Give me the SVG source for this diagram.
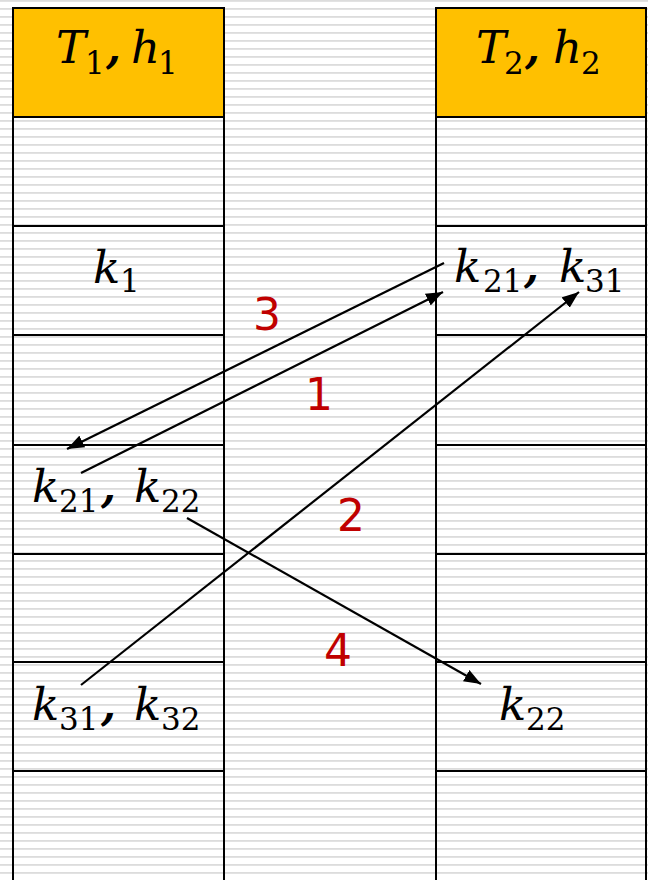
<svg xmlns="http://www.w3.org/2000/svg" width="648" height="880" viewBox="0 0 648 880">
<defs>
<pattern id="stripes" x="0" y="0" width="8" height="8" patternUnits="userSpaceOnUse">
<rect x="0" y="0" width="8" height="8" fill="#ffffff"/>
<rect x="0" y="0" width="8" height="1.8" fill="#dcdcdc"/>
</pattern>
<marker id="arr" markerUnits="userSpaceOnUse" markerWidth="18" markerHeight="14" refX="17" refY="7" orient="auto">
<path d="M0,0.5 L17,7 L0,13.5 z" fill="#000"/>
</marker>
<style>
.grid{stroke:#000;stroke-width:2;fill:none}
.hdr{fill:#FFC000;stroke:#000;stroke-width:2}
.m{font-family:"DejaVu Serif","Liberation Serif",serif;font-style:italic;font-size:45px;fill:#000}
.s{font-family:"DejaVu Serif","Liberation Serif",serif;font-size:31px;fill:#000}
.c{font-family:"DejaVu Serif","Liberation Serif",serif;font-style:italic;font-weight:bold;font-size:43px;fill:#000}
.num{font-family:"DejaVu Sans","Verdana",sans-serif;font-size:44px;fill:#C00000;text-anchor:middle}
.conn{stroke:#000;stroke-width:2.2;fill:none;marker-end:url(#arr)}
</style>
</defs>
<rect x="0" y="0" width="648" height="880" fill="url(#stripes)"/>

<g id="table1">
<rect class="hdr" x="13" y="8" width="211" height="109"/>
<line class="grid" x1="13" y1="117" x2="13" y2="880"/>
<line class="grid" x1="224" y1="117" x2="224" y2="880"/>
<line class="grid" x1="13" y1="226" x2="224" y2="226"/>
<line class="grid" x1="13" y1="335" x2="224" y2="335"/>
<line class="grid" x1="13" y1="445" x2="224" y2="445"/>
<line class="grid" x1="13" y1="554" x2="224" y2="554"/>
<line class="grid" x1="13" y1="662" x2="224" y2="662"/>
<line class="grid" x1="13" y1="771" x2="224" y2="771"/>
<text><tspan class="m" x="56" y="63">T</tspan><tspan class="s" x="85" y="74">1</tspan><tspan class="c" x="106" y="63">,</tspan><tspan class="m" x="131" y="63">h</tspan><tspan class="s" x="158" y="74">1</tspan></text>
</g>

<g id="table2">
<rect class="hdr" x="436" y="8" width="210" height="109"/>
<line class="grid" x1="436" y1="117" x2="436" y2="880"/>
<line class="grid" x1="646" y1="117" x2="646" y2="880"/>
<line class="grid" x1="436" y1="226" x2="646" y2="226"/>
<line class="grid" x1="436" y1="335" x2="646" y2="335"/>
<line class="grid" x1="436" y1="445" x2="646" y2="445"/>
<line class="grid" x1="436" y1="554" x2="646" y2="554"/>
<line class="grid" x1="436" y1="662" x2="646" y2="662"/>
<line class="grid" x1="436" y1="771" x2="646" y2="771"/>
<text><tspan class="m" x="476" y="63">T</tspan><tspan class="s" x="504" y="74">2</tspan><tspan class="c" x="525" y="63">,</tspan><tspan class="m" x="553" y="63">h</tspan><tspan class="s" x="581" y="74">2</tspan></text>
</g>

<g id="cell-k1">
<text><tspan class="m" x="93" y="283">k</tspan><tspan class="s" x="120" y="292">1</tspan></text>
</g>
<g id="cell-k21-k31">
<text><tspan class="m" x="454" y="282">k</tspan><tspan class="s" x="483" y="292">21</tspan><tspan class="c" x="524" y="282">,</tspan><tspan class="m" x="559" y="282">k</tspan><tspan class="s" x="585" y="292">31</tspan></text>
</g>
<g id="cell-k21-k22">
<text><tspan class="m" x="32" y="502">k</tspan><tspan class="s" x="59" y="512">21</tspan><tspan class="c" x="101" y="502">,</tspan><tspan class="m" x="134" y="502">k</tspan><tspan class="s" x="161" y="512">22</tspan></text>
</g>
<g id="cell-k31-k32">
<text><tspan class="m" x="32" y="720">k</tspan><tspan class="s" x="59" y="730">31</tspan><tspan class="c" x="101" y="720">,</tspan><tspan class="m" x="134" y="720">k</tspan><tspan class="s" x="161" y="730">32</tspan></text>
</g>
<g id="cell-k22">
<text><tspan class="m" x="499" y="720">k</tspan><tspan class="s" x="526" y="730">22</tspan></text>
</g>

<g id="connectors">
<line class="conn" x1="444" y1="263" x2="67" y2="449"/>
<line class="conn" x1="81" y1="473" x2="443" y2="292"/>
<line class="conn" x1="81" y1="685" x2="579" y2="292"/>
<line class="conn" x1="187" y1="518" x2="481" y2="684"/>
<text class="num" x="267" y="330">3</text>
<text class="num" x="319" y="410">1</text>
<text class="num" x="351" y="531">2</text>
<text class="num" x="338" y="666">4</text>
</g>
</svg>
